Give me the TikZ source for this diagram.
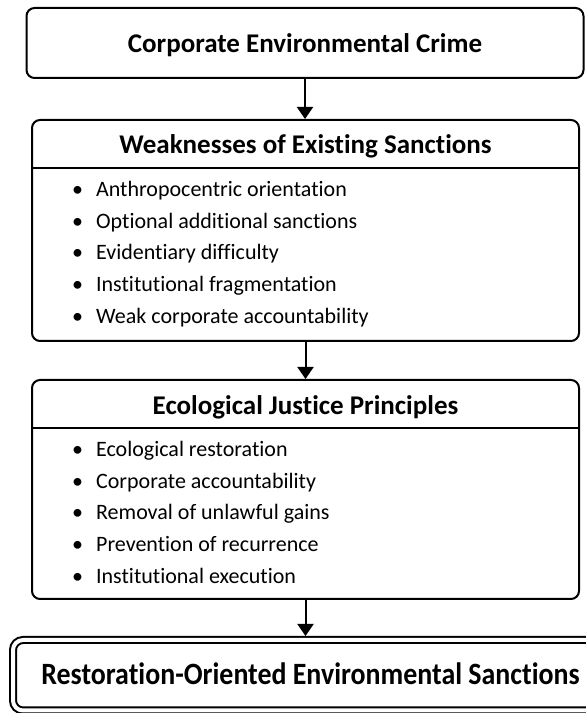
\documentclass[tikz,border=0pt]{standalone}
\usepackage{fontspec}
\setmainfont[Ligatures=NoCommon]{Carlito}
\newfontfamily\narrowfont[Ligatures=NoCommon, FakeStretch=0.9]{Carlito}
\usetikzlibrary{arrows.meta, positioning, calc}

\tikzset{
    stagebox/.style={rectangle, rounded corners=8pt, draw=black, line width=2pt, fill=white, inner sep=0pt, outer sep=0pt},
    headtext/.style={font=\fontsize{27}{30}\selectfont\bfseries, inner sep=0pt, anchor=base},
    itemtext/.style={font=\fontsize{22}{31.75}\selectfont, align=left, inner sep=0pt, anchor=north west},
    arrow/.style={-{Triangle[length=12pt, width=16pt]}, line width=2pt, shorten >=1pt},
}

\begin{document}
\begin{tikzpicture}[x=1pt, y=1pt]
\useasboundingbox (0,0) rectangle (586,713);

% Starting point
\node[stagebox, minimum width=557pt, minimum height=70pt] (crime) at (305,670) {};
\node[headtext] (crime-title) at ([yshift=-45pt]crime.north) {Corporate Environmental Crime};

% Weaknesses box
\node[stagebox, minimum width=547pt, minimum height=221pt] (weak) at (305.5,482.5) {};
\node[headtext] (weak-title) at ([yshift=-34pt]weak.north) {Weaknesses of Existing Sanctions};
\draw[line width=2pt] ([yshift=-48pt]weak.north west) -- ([yshift=-48pt]weak.north east);
\node[itemtext] (weak-list) at ([xshift=40pt, yshift=-61pt]weak.north west) {
    \textbullet\hspace{13pt}Anthropocentric orientation\\
    \textbullet\hspace{13pt}Optional additional sanctions\\
    \textbullet\hspace{13pt}Evidentiary difficulty\\
    \textbullet\hspace{13pt}Institutional fragmentation\\
    \textbullet\hspace{13pt}Weak corporate accountability
};

% Principles box
\node[stagebox, minimum width=547pt, minimum height=219pt] (just) at (305.5,223.5) {};
\node[headtext] (just-title) at ([yshift=-35pt]just.north) {Ecological Justice Principles};
\draw[line width=2pt] ([yshift=-48pt]just.north west) -- ([yshift=-48pt]just.north east);
\node[itemtext] (just-list) at ([xshift=40pt, yshift=-61pt]just.north west) {
    \textbullet\hspace{13pt}Ecological restoration\\
    \textbullet\hspace{13pt}Corporate accountability\\
    \textbullet\hspace{13pt}Removal of unlawful gains\\
    \textbullet\hspace{13pt}Prevention of recurrence\\
    \textbullet\hspace{13pt}Institutional execution
};

% Result (double border)
\node[stagebox, rounded corners=10pt, double=white, double distance=4pt, minimum width=587pt, minimum height=70.5pt] (sanction) at (306.5,37.75) {};
\node[headtext, font=\narrowfont\fontsize{31}{34}\selectfont\bfseries] (sanction-title) at ([xshift=4pt, yshift=-45pt]sanction.north) {Restoration-Oriented Environmental Sanctions};

% Arrows
\draw[arrow] (crime.south) -- (crime.south |- weak.north);
\draw[arrow] (weak.south) -- (weak.south |- just.north);
\draw[arrow, shorten >=4pt] (just.south) -- (just.south |- sanction.north);

\end{tikzpicture}
\end{document}
